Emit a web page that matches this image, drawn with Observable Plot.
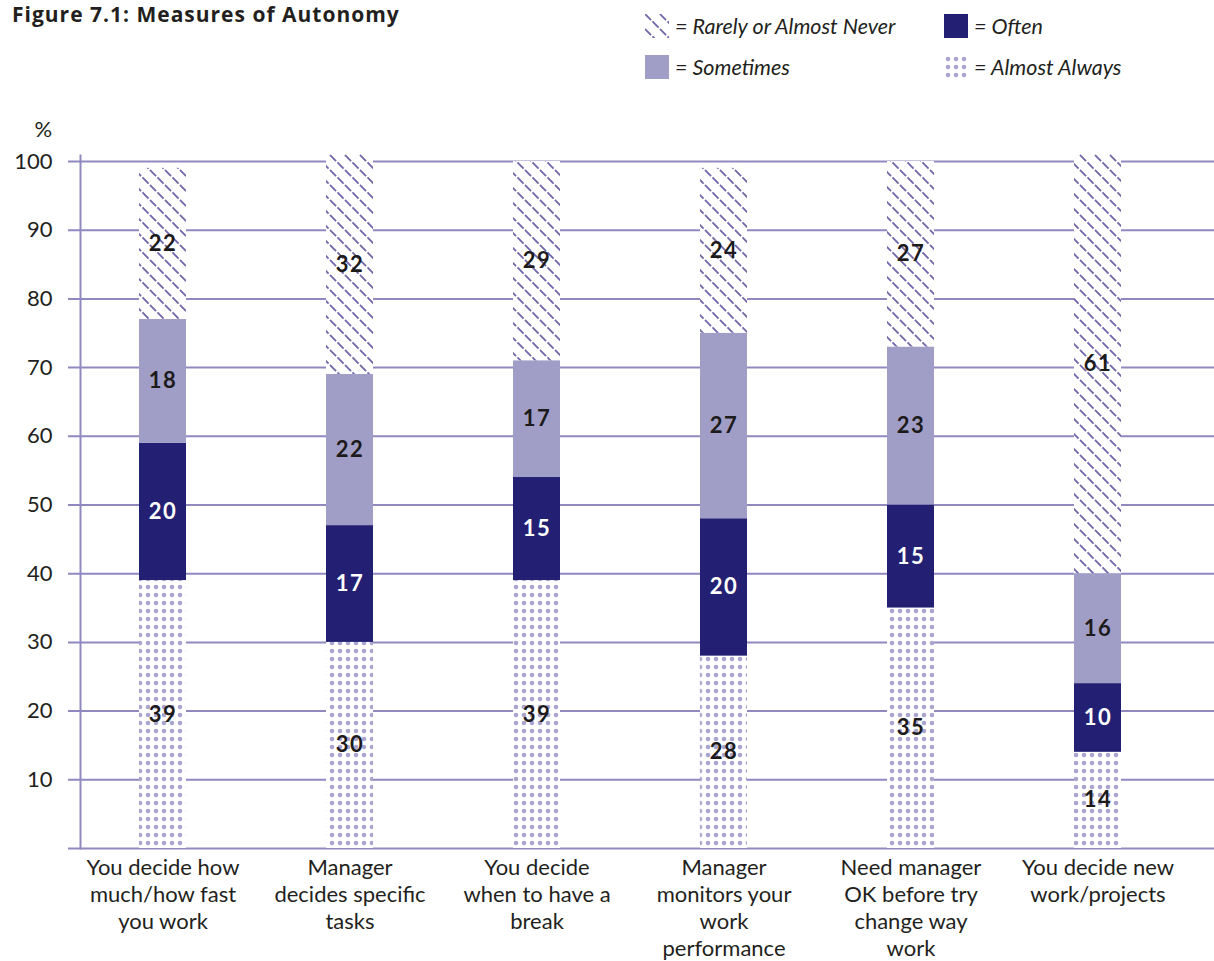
<!DOCTYPE html>
<html>
<head>
<meta charset="utf-8">
<script src="https://cdn.jsdelivr.net/npm/d3@7"></script>
<script src="https://cdn.jsdelivr.net/npm/@observablehq/plot@0.6"></script>
<style>
  body { margin: 0; background: #fff; font-family: Lato, "Open Sans", sans-serif; color: #231f20; }
  #header { position: relative; height: 95px; width: 1214px; }
  #title { position: absolute; left: 12px; top: 0px; font-family: "Open Sans", Lato, sans-serif; font-weight: bold; font-size: 21px; letter-spacing: 1px; }
  .key { position: absolute; display: flex; align-items: center; font-style: italic; font-size: 21.5px; white-space: nowrap; }
  .key svg { margin-right: 6px; display: block; }
  #chart svg g[aria-label="text"] text { letter-spacing: 1.5px; }
</style>
</head>
<body>
<div id="header">
  <div id="title">Figure 7.1: Measures of Autonomy</div>
  <div class="key" style="left:645px; top:13px;"><svg width="24" height="24"><rect width="24" height="24" fill="url(#hatch)"/></svg>= Rarely or Almost Never</div>
  <div class="key" style="left:944px; top:13px;"><svg width="24" height="24"><rect width="24" height="24" fill="#231f73"/></svg>= Often</div>
  <div class="key" style="left:645px; top:54px;"><svg width="24" height="24"><rect width="24" height="24" fill="#a09ec6"/></svg>= Sometimes</div>
  <div class="key" style="left:944px; top:54px;"><svg width="24" height="24"><rect width="24" height="24" fill="url(#dots)"/></svg>= Almost Always</div>
</div>
<div id="chart"></div>
<script>
// Survey items (x categories), multi-line labels
const questions = [
  "You decide how\nmuch/how fast\nyou work",
  "Manager\ndecides specific\ntasks",
  "You decide\nwhen to have a\nbreak",
  "Manager\nmonitors your\nwork\nperformance",
  "Need manager\nOK before try\nchange way\nwork",
  "You decide new\nwork/projects"
];

// Response categories, bottom of the stack first
const responses = ["Almost Always", "Often", "Sometimes", "Rarely or Almost Never"];

// Percentages per response, one value per survey item
const almostAlways = [39, 30, 39, 28, 35, 14];
const often        = [20, 17, 15, 20, 15, 10];
const sometimes    = [18, 22, 17, 27, 23, 16];
const rarely       = [22, 32, 29, 24, 27, 61];

const yTicks = [10, 20, 30, 40, 50, 60, 70, 80, 90, 100];
const gridValues = [0, ...yTicks];

const seriesValues = [almostAlways, often, sometimes, rarely];
const table = responses.flatMap((response, i) =>
  questions.map((question, j) => ({question, response, value: seriesValues[i][j]}))
);

const gridColor = "#8f89bf";
const inkColor = "#231f20";

// Fill patterns: diagonal dashed hatching and a dot grid
function patterns() {
  const defs = d3.create("svg:defs");
  const hatch = defs.append("pattern")
    .attr("id", "hatch").attr("patternUnits", "userSpaceOnUse")
    .attr("width", 15).attr("height", 15);
  hatch.append("rect").attr("width", 15).attr("height", 15).attr("fill", "#fff");
  hatch.append("path")
    .attr("d", "M-15,-15L30,30M0,-15L30,15M-15,0L15,30")
    .attr("stroke", "#6f67aa").attr("stroke-width", 1.8)
    .attr("stroke-dasharray", "8.6,2");
  const dots = defs.append("pattern")
    .attr("id", "dots").attr("patternUnits", "userSpaceOnUse")
    .attr("width", 8).attr("height", 8);
  dots.append("rect").attr("width", 8).attr("height", 8).attr("fill", "#fff");
  dots.append("circle").attr("cx", 4).attr("cy", 4).attr("r", 2.3).attr("fill", "#a9a5cf");
  return defs.node();
}

const chart = Plot.plot({
  width: 1214,
  height: 866,
  marginTop: 66,
  marginBottom: 113,
  marginLeft: 80,
  marginRight: 0,
  style: {fontFamily: "Lato, 'Open Sans', sans-serif", fontSize: "22px", color: inkColor, background: "transparent"},
  x: {domain: questions, paddingInner: 0.749, paddingOuter: 0.406, align: 0.39, label: null},
  y: {domain: [0, 100], label: null},
  color: {domain: responses, range: ["url(#dots)", "#231f73", "#a09ec6", "url(#hatch)"]},
  marks: [
    patterns,
    Plot.ruleY(gridValues, {stroke: gridColor, strokeWidth: 2, insetLeft: -12}),
    Plot.frame({anchor: "left", stroke: gridColor, strokeWidth: 2, insetTop: -6}),
    Plot.axisY({ticks: yTicks, tickSize: 0, tickPadding: 28, label: null, fill: inkColor, fontSize: 22}),
    Plot.text(["%"], {frameAnchor: "top-left", dx: -46, dy: -40, fill: inkColor, fontSize: 22}),
    Plot.axisX({tickSize: 0, tickPadding: 7, lineHeight: 1.23, label: null, fill: inkColor, fontSize: 22}),
    Plot.barY(table, {x: "question", y: "value", fill: "response"}),
    Plot.text(table, Plot.stackY({
      x: "question", y: "value", z: "response",
      text: d => d.response === "Often" ? "" : String(d.value),
      fill: "#1c1a1a", fontWeight: "bold", fontSize: 22
    })),
    Plot.text(table, Plot.stackY({
      x: "question", y: "value", z: "response",
      text: d => d.response === "Often" ? String(d.value) : "",
      fill: "#ffffff", fontWeight: "bold", fontSize: 22
    }))
  ]
});
document.getElementById("chart").append(chart);
</script>
</body>
</html>
